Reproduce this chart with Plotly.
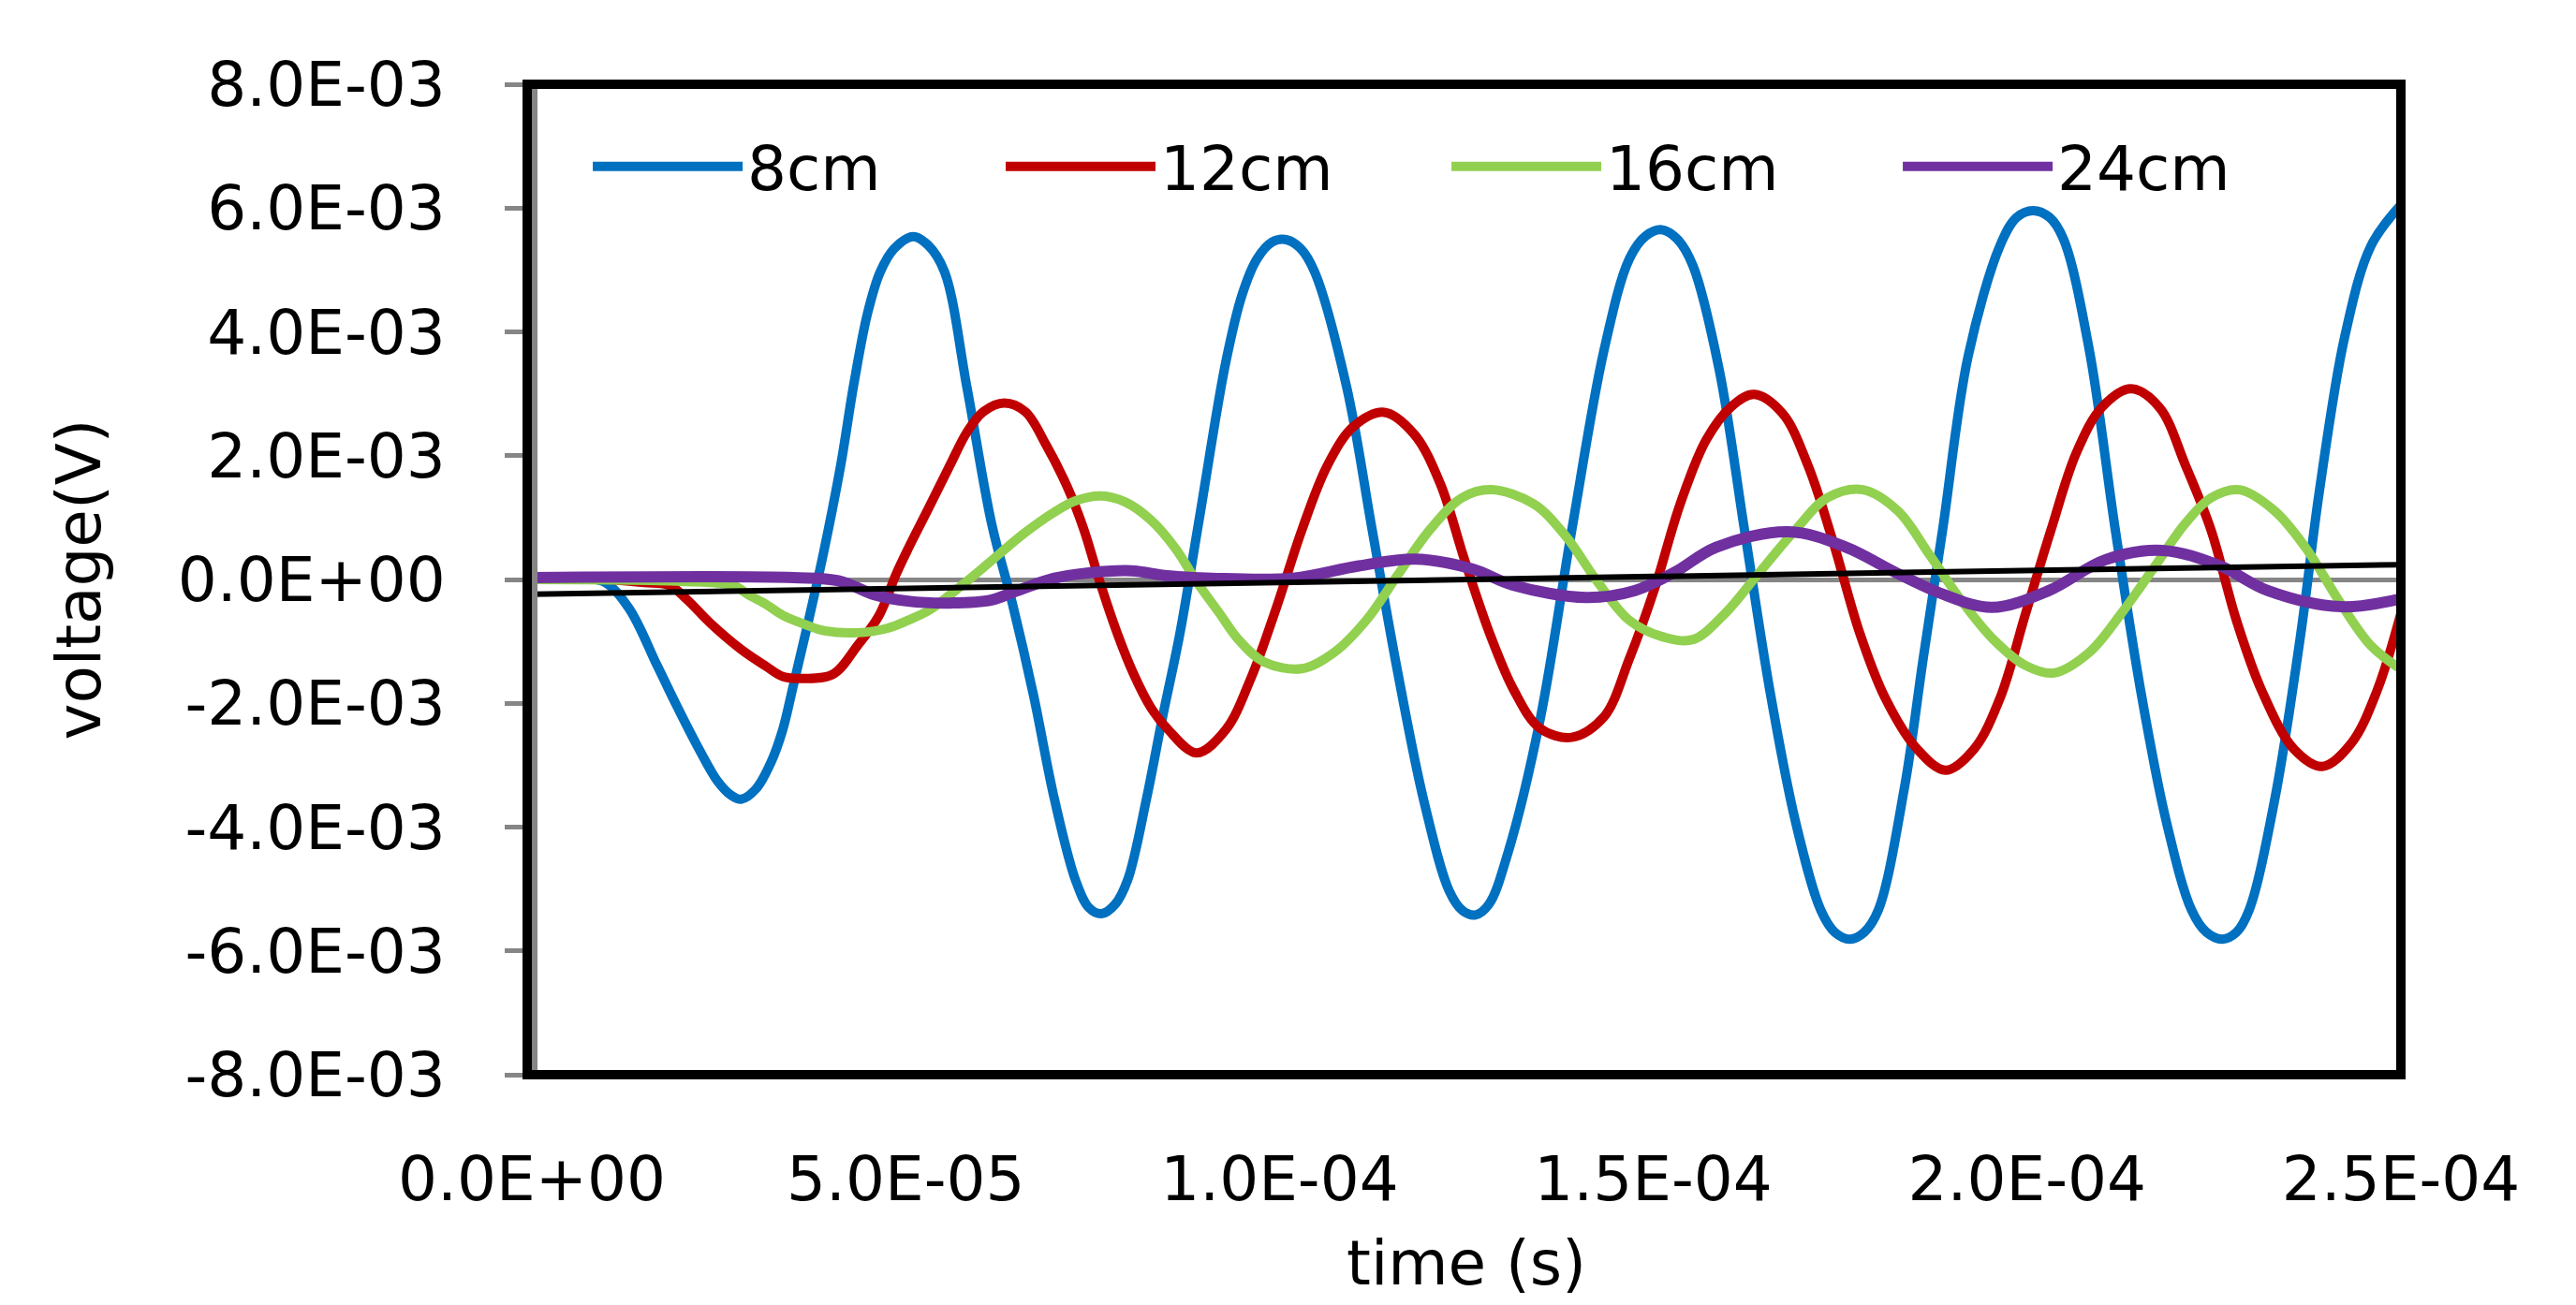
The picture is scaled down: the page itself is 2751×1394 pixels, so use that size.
import plotly.graph_objects as go

T_UNIT = 1e-5   # time values below are in units of 1e-5 s
V_UNIT = 1e-3   # voltage values below are in units of 1e-3 V

t_8cm = [0, 0.5, 0.95, 1.29, 1.68, 1.95, 2.24, 2.48, 2.66, 2.8, 3.0, 3.2, 3.35, 3.5, 3.69, 3.91, 4.13, 4.31,
         4.49, 4.66, 4.85, 5.1, 5.3, 5.52, 5.82, 6.15, 6.43, 6.71, 6.99, 7.27, 7.45, 7.62, 7.8, 7.97,
         8.22, 8.44, 8.67, 8.93, 9.28, 9.5, 9.7, 9.9, 10.09, 10.28, 10.47, 10.9, 11.24, 11.58, 11.93,
         12.27, 12.45, 12.62, 12.8, 13.06, 13.48, 13.91, 14.34, 14.68, 14.9, 15.11, 15.32, 15.53,
         15.88, 16.22, 16.56, 16.9, 17.24, 17.43, 17.63, 17.82, 18.01, 18.36, 18.61, 18.87, 19.21,
         19.64, 19.86, 20.08, 20.3, 20.49, 20.83, 21.18, 21.52, 21.86, 22.2, 22.4, 22.61, 22.8,
         22.97, 23.31, 23.65, 23.91, 24.25, 24.6, 25.0]
v_8cm = [0, 0, -0.03, -0.45, -1.4, -2.07, -2.75, -3.25, -3.48, -3.55, -3.38, -2.95, -2.45, -1.7, -0.72, 0.48, 1.84, 3.18,
         4.3, 4.97, 5.35, 5.54, 5.4, 4.97, 3.1, 0.9, -0.4, -1.87, -3.55, -4.85, -5.3, -5.4, -5.25, -4.85,
         -3.55, -2.2, -0.86, 1.0, 3.5, 4.6, 5.18, 5.45, 5.49, 5.35, 4.97, 3.1, 0.8, -1.49, -3.57,
         -5.03, -5.35, -5.42, -5.25, -4.4, -2.3, 0.8, 3.7, 5.18, 5.55, 5.65, 5.5, 5.07,
         3.4, 0.8, -1.8, -3.9, -5.34, -5.7, -5.81, -5.7, -5.34, -3.36, -1.28, 0.8, 3.6,
         5.4, 5.85, 5.96, 5.85, 5.49, 3.72, 0.8, -1.8, -3.9, -5.34, -5.7, -5.81, -5.7,
         -5.34, -3.57, -0.97, 1.43, 3.93, 5.39, 6.05]

t_12cm = [0, 1.0, 1.5, 1.85, 2.07, 2.4, 2.8, 3.13, 3.36, 3.64, 4.03, 4.36, 4.64, 4.87, 5.03, 5.31,
          5.59, 5.82, 6.04, 6.32, 6.6, 6.88, 7.16, 7.38, 7.6, 7.83, 8.05, 8.28, 8.5, 8.89, 9.28,
          9.62, 9.96, 10.3, 10.64, 10.99, 11.4, 11.8, 12.15, 12.48, 12.82, 13.14, 13.48, 13.91,
          14.34, 14.68, 15.02, 15.36, 15.71, 16.05, 16.35, 16.73, 17.07, 17.41, 17.76, 18.1,
          18.53, 18.91, 19.29, 19.64, 19.98, 20.32, 20.66, 21.0, 21.39, 21.77, 22.12, 22.46,
          22.8, 23.14, 23.57, 23.95, 24.34, 24.68, 25.0]
v_12cm = [0, 0, -0.05, -0.1, -0.32, -0.72, -1.13, -1.4, -1.57, -1.6, -1.53, -1.06, -0.59, 0.08, 0.49, 1.16,
          1.84, 2.38, 2.71, 2.85, 2.71, 2.17, 1.5, 0.82, -0.05, -0.87, -1.53, -2.07, -2.41, -2.8, -2.43,
          -1.59, -0.45, 0.8, 1.84, 2.47, 2.7, 2.35, 1.55, 0.3, -0.9, -1.8, -2.4, -2.55,
          -2.22, -1.28, -0.14, 1.22, 2.26, 2.8, 2.99, 2.68, 1.84, 0.59, -0.86, -1.91,
          -2.74, -3.08, -2.74, -1.91, -0.55, 0.8, 2.05, 2.78, 3.08, 2.78, 1.84, 0.8,
          -0.66, -1.8, -2.74, -3.02, -2.64, -1.8, -0.55]

t_16cm = [0, 2.0, 2.7, 2.9, 3.13, 3.36, 3.64, 3.92, 4.36, 4.75, 5.03, 5.31, 5.59, 5.93, 6.26, 6.6,
          6.99, 7.27, 7.61, 7.94, 8.28, 8.61, 8.9, 9.2, 9.45, 9.79, 10.3, 10.73, 11.16, 11.58,
          12.01, 12.44, 12.83, 13.4, 13.83, 14.25, 14.68, 15.11, 15.53, 15.96, 16.39, 16.9,
          17.33, 17.8, 18.27, 18.7, 19.12, 19.55, 19.98, 20.36, 20.83, 21.26, 21.69, 22.12,
          22.46, 22.84, 23.31, 23.74, 24.17, 24.6, 25.0]
v_16cm = [0, -0.03, -0.1, -0.25, -0.4, -0.58, -0.72, -0.83, -0.86, -0.79, -0.66, -0.5, -0.25, 0.08, 0.42, 0.76,
          1.09, 1.27, 1.35, 1.25, 0.96, 0.5, -0.05, -0.55, -0.97, -1.33, -1.44, -1.18, -0.66, 0.07,
          0.8, 1.32, 1.45, 1.22, 0.7, -0.03, -0.66, -0.92, -0.97, -0.55, 0.07, 0.8,
          1.32, 1.45, 1.11, 0.39, -0.34, -0.97, -1.39, -1.51, -1.18, -0.55, 0.18, 0.91,
          1.32, 1.45, 1.11, 0.49, -0.34, -1.07, -1.45]

t_24cm = [0, 3.5, 4.1, 4.59, 5.03, 5.6, 6.15, 6.43, 6.99, 7.4, 8.02, 8.5, 9.1, 10.18, 11.06, 11.82,
          12.58, 13.12, 14.1, 14.75, 15.29, 15.84, 16.81, 17.58, 18.23, 18.88, 19.53, 20.29,
          21.05, 21.81, 22.58, 23.22, 24.2, 25.0]
v_24cm = [0.03, 0.03, -0.02, -0.25, -0.35, -0.38, -0.33, -0.21, 0.02, 0.1, 0.14, 0.06, 0.02, 0.02, 0.22, 0.33,
          0.17, -0.09, -0.29, -0.18, 0.12, 0.52, 0.77, 0.52, 0.12, -0.24, -0.45, -0.18,
          0.32, 0.47, 0.22, -0.18, -0.44, -0.31]

# straight (trend) line visible near zero
t_trend = [0, 25.0]
v_trend = [-0.24, 0.24]

series_names = ["8cm", "12cm", "16cm", "24cm"]
series_colors = ["#0070C0", "#C00000", "#92D050", "#7030A0"]
series_widths = [10, 10, 10, 12]
legend_ids = ["legend", "legend2", "legend3", "legend4"]
legend_x = [0.0301, 0.2510, 0.4895, 0.7310]

x_tickvals = [0, 5e-5, 1e-4, 1.5e-4, 2e-4, 2.5e-4]
x_ticktext = ["0.0E+00", "5.0E-05", "1.0E-04", "1.5E-04", "2.0E-04", "2.5E-04"]
y_tickvals = [8e-3, 6e-3, 4e-3, 2e-3, 0, -2e-3, -4e-3, -6e-3, -8e-3]
y_ticktext = ["8.0E-03", "6.0E-03", "4.0E-03", "2.0E-03", "0.0E+00",
              "-2.0E-03", "-4.0E-03", "-6.0E-03", "-8.0E-03"]

FONT = "DejaVu Sans"
FS = 66
AXIS_GRAY = "#868686"

fig = go.Figure()
all_t = [t_8cm, t_12cm, t_16cm, t_24cm]
all_v = [v_8cm, v_12cm, v_16cm, v_24cm]
for name, color, w, ts, vs, lg in zip(series_names, series_colors, series_widths, all_t, all_v, legend_ids):
    fig.add_trace(go.Scatter(
        x=[t * T_UNIT for t in ts], y=[v * V_UNIT for v in vs],
        mode="lines", name=name, legend=lg,
        line=dict(color=color, width=w, shape="spline", smoothing=1.0),
    ))

fig.add_trace(go.Scatter(
    x=[t * T_UNIT for t in t_trend], y=[v * V_UNIT for v in v_trend],
    mode="lines", showlegend=False, line=dict(color="#000000", width=6),
))

legend_common = dict(orientation="h", y=0.917, xanchor="left", yanchor="middle",
                     font=dict(family=FONT, size=FS, color="black"),
                     itemwidth=160, bgcolor="rgba(0,0,0,0)")
legend_layout = {lg: dict(legend_common, x=lx) for lg, lx in zip(legend_ids, legend_x)}

fig.update_layout(
    width=2751, height=1394,
    margin=dict(l=560, r=195, t=82, b=254, autoexpand=False),
    paper_bgcolor="white", plot_bgcolor="white",
    font=dict(family=FONT, size=FS, color="black"),
    showlegend=True,
    xaxis=dict(range=[0, 2.5e-4], tickvals=x_tickvals, ticktext=x_ticktext,
               showgrid=False, zeroline=False, showline=False, ticks="",
               ticklabelstandoff=67, tickfont=dict(family=FONT, size=FS, color="black"),
               title=dict(text="time (s)", font=dict(family=FONT, size=FS, color="black"), standoff=28),
               automargin=False),
    yaxis=dict(range=[-8e-3, 8e-3], tickvals=y_tickvals, ticktext=y_ticktext,
               showgrid=False, zeroline=True, zerolinecolor=AXIS_GRAY, zerolinewidth=5,
               showline=False,
               ticks="outside", ticklen=28, tickwidth=5, tickcolor=AXIS_GRAY,
               ticklabelstandoff=50, tickfont=dict(family=FONT, size=FS, color="black"),
               title=dict(text="voltage(V)", font=dict(family=FONT, size=FS, color="black"), standoff=60),
               automargin=False),
    shapes=[
        dict(type="line", xref="paper", yref="paper", x0=0.0015, x1=0.0015, y0=0.0, y1=1.0,
             line=dict(color=AXIS_GRAY, width=6), layer="above"),
        dict(type="rect", xref="paper", yref="paper", x0=-0.0025, x1=1.0, y0=0.0, y1=1.0,
             line=dict(color="black", width=10), fillcolor="rgba(0,0,0,0)", layer="above"),
    ],
    **legend_layout,
)

fig.write_html("out.html")
